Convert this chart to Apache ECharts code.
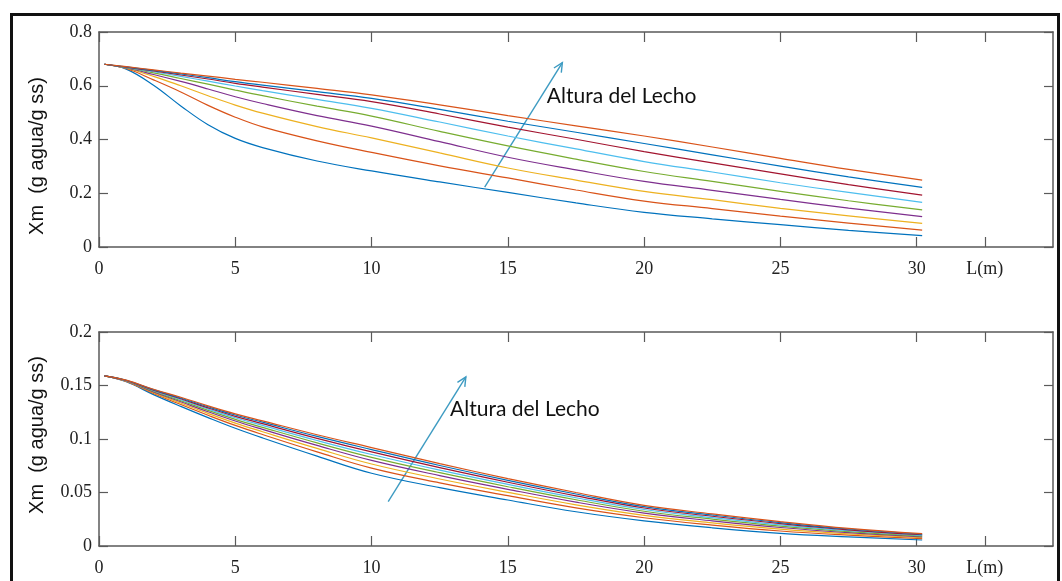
<!DOCTYPE html>
<html>
<head>
<meta charset="utf-8">
<script src="https://cdn.jsdelivr.net/npm/echarts@6/dist/echarts.min.js"></script>
<style>
  html, body { margin: 0; padding: 0; background: #fff; }
  #chart { width: 1062px; height: 581px; }
</style>
</head>
<body>
<div id="chart"></div>
<script>
// L (m) sample positions shared by every curve
const xs = [0.2, 1, 2, 3, 4, 5, 6, 8, 10, 12.5, 15, 17.5, 20, 22.5, 25, 27.5, 30.2];
const xTickValues = [0, 5, 10, 15, 20, 25, 30, 32.5];

// upper panel, from the lowest curve to the highest (bed height grows)
const top1 = [0.68, 0.662, 0.602, 0.525, 0.455, 0.404, 0.370, 0.320, 0.283, 0.242, 0.203, 0.164, 0.129, 0.105, 0.083, 0.062, 0.042];
const top2 = [0.68, 0.664, 0.622, 0.577, 0.527, 0.483, 0.447, 0.395, 0.352, 0.302, 0.257, 0.212, 0.171, 0.143, 0.115, 0.089, 0.063];
const top3 = [0.68, 0.665, 0.635, 0.600, 0.563, 0.528, 0.498, 0.448, 0.406, 0.350, 0.294, 0.249, 0.207, 0.176, 0.144, 0.116, 0.088];
const top4 = [0.68, 0.666, 0.642, 0.616, 0.588, 0.559, 0.534, 0.489, 0.450, 0.392, 0.334, 0.287, 0.244, 0.211, 0.177, 0.145, 0.113];
const top5 = [0.68, 0.667, 0.648, 0.627, 0.606, 0.584, 0.563, 0.524, 0.487, 0.430, 0.376, 0.327, 0.281, 0.244, 0.207, 0.172, 0.138];
const top6 = [0.68, 0.668, 0.652, 0.635, 0.617, 0.599, 0.582, 0.549, 0.516, 0.465, 0.413, 0.365, 0.318, 0.279, 0.239, 0.203, 0.166];
const top7 = [0.68, 0.669, 0.655, 0.640, 0.625, 0.609, 0.595, 0.568, 0.541, 0.495, 0.446, 0.401, 0.355, 0.313, 0.272, 0.232, 0.193];
const top8 = [0.68, 0.670, 0.657, 0.644, 0.630, 0.615, 0.602, 0.578, 0.553, 0.512, 0.468, 0.427, 0.385, 0.343, 0.301, 0.261, 0.222];
const top9 = [0.68, 0.671, 0.659, 0.647, 0.636, 0.624, 0.613, 0.590, 0.566, 0.529, 0.489, 0.451, 0.413, 0.372, 0.330, 0.289, 0.249];

// lower panel, same order
const low1 = [0.159, 0.1535, 0.1415, 0.1305, 0.1200, 0.1100, 0.1010, 0.0840, 0.0680, 0.0545, 0.0430, 0.0320, 0.0235, 0.0170, 0.0118, 0.0085, 0.0056];
const low2 = [0.159, 0.1538, 0.1425, 0.1322, 0.1222, 0.1127, 0.1042, 0.0880, 0.0728, 0.0590, 0.0470, 0.0356, 0.0264, 0.0196, 0.0140, 0.0101, 0.0068];
const low3 = [0.159, 0.1540, 0.1433, 0.1336, 0.1240, 0.1149, 0.1068, 0.0912, 0.0766, 0.0626, 0.0502, 0.0385, 0.0287, 0.0217, 0.0158, 0.0114, 0.0077];
const low4 = [0.159, 0.1543, 0.1440, 0.1348, 0.1255, 0.1168, 0.1090, 0.0940, 0.0800, 0.0658, 0.0530, 0.0410, 0.0308, 0.0235, 0.0173, 0.0125, 0.0086];
const low5 = [0.159, 0.1544, 0.1446, 0.1358, 0.1268, 0.1184, 0.1109, 0.0964, 0.0829, 0.0685, 0.0554, 0.0432, 0.0325, 0.0251, 0.0186, 0.0135, 0.0093];
const low6 = [0.159, 0.1546, 0.1452, 0.1367, 0.1280, 0.1199, 0.1127, 0.0986, 0.0855, 0.0709, 0.0576, 0.0451, 0.0341, 0.0265, 0.0198, 0.0143, 0.0099];
const low7 = [0.159, 0.1547, 0.1457, 0.1376, 0.1291, 0.1212, 0.1143, 0.1006, 0.0879, 0.0732, 0.0596, 0.0469, 0.0355, 0.0278, 0.0209, 0.0151, 0.0105];
const low8 = [0.159, 0.1549, 0.1461, 0.1383, 0.1301, 0.1224, 0.1157, 0.1024, 0.0901, 0.0752, 0.0614, 0.0486, 0.0368, 0.0290, 0.0219, 0.0159, 0.0110];
const low9 = [0.159, 0.1550, 0.1465, 0.1390, 0.1310, 0.1235, 0.1170, 0.1040, 0.0920, 0.0770, 0.0630, 0.0500, 0.0380, 0.0300, 0.0228, 0.0165, 0.0115];

const topCurves = [top1, top2, top3, top4, top5, top6, top7, top8, top9];
const lowCurves = [low1, low2, low3, low4, low5, low6, low7, low8, low9];

// matlab default line order
const colors = ['#0072BD', '#D95319', '#EDB120', '#7E2F8E', '#77AC30', '#4DBEEE', '#A2142F', '#0072BD', '#D95319'];

const serif = 'Liberation Serif';
const axisColor = '#5a5a5a';
const arrowColor = '#3d9bc2';

const xAxisFor = ( gridIndex, position ) => ( {
	type: 'value',
	gridIndex,
	position,
	min: 0,
	max: 35,
	axisLine: { show: true, onZero: false, lineStyle: { color: axisColor, width: 1.5 } },
	axisTick: { show: true, inside: true, length: 10, customValues: xTickValues, lineStyle: { color: axisColor, width: 1.2 } },
	axisLabel: {
		show: position === 'bottom',
		customValues: xTickValues,
		formatter: ( v ) => v === 32.5 ? 'L(m)' : String( v ),
		fontFamily: serif,
		fontSize: 18,
		color: '#222',
		margin: 13
	},
	splitLine: { show: false }
} );

const yAxisFor = ( gridIndex, position, max, interval ) => ( {
	type: 'value',
	gridIndex,
	position,
	min: 0,
	max,
	interval,
	axisLine: { show: true, onZero: false, lineStyle: { color: axisColor, width: 1.5 } },
	axisTick: { show: true, inside: true, length: 9, lineStyle: { color: axisColor, width: 1.2 } },
	axisLabel: { show: position === 'left', fontFamily: serif, fontSize: 18, color: '#222', margin: 7 },
	splitLine: { show: false }
} );

const lineSeries = ( curves, axisIndex ) => curves.map( ( values, i ) => ( {
	type: 'line',
	xAxisIndex: axisIndex,
	yAxisIndex: axisIndex,
	data: xs.map( ( x, j ) => [ x, values[ j ] ] ),
	showSymbol: false,
	smooth: 0.4,
	lineStyle: { width: 1.2, color: colors[ i ] },
	itemStyle: { color: colors[ i ] },
	silent: true,
	z: 2
} ) );

const chart = echarts.init( document.getElementById( 'chart' ), null, { renderer: 'canvas' } );

chart.setOption( {
	animation: false,
	backgroundColor: '#fff',
	grid: [
		{ left: 99, top: 32, width: 954, height: 215 },
		{ left: 99, top: 332, width: 954, height: 214 }
	],
	xAxis: [
		xAxisFor( 0, 'bottom' ),
		xAxisFor( 0, 'top' ),
		xAxisFor( 1, 'bottom' ),
		xAxisFor( 1, 'top' )
	],
	yAxis: [
		yAxisFor( 0, 'left', 0.8, 0.2 ),
		yAxisFor( 0, 'right', 0.8, 0.2 ),
		yAxisFor( 1, 'left', 0.2, 0.05 ),
		yAxisFor( 1, 'right', 0.2, 0.05 )
	],
	series: lineSeries( topCurves, 0 ).concat( lineSeries( lowCurves, 2 ) )
} );

// annotation arrows, given in data units of each panel
const arrows = [
	{ axis: 0, from: [ 14.15, 0.223 ], to: [ 17.0, 0.686 ], label: [ 16.43, 0.562 ] },
	{ axis: 2, from: [ 10.61, 0.0414 ], to: [ 13.46, 0.158 ], label: [ 12.88, 0.128 ] }
];

const graphic = [
	{
		type: 'rect',
		shape: { x: 11.5, y: 14.5, width: 1047, height: 590 },
		style: { fill: 'none', stroke: '#111', lineWidth: 3 },
		silent: true
	},
	{
		type: 'text',
		x: 37, y: 156, rotation: Math.PI / 2,
		style: { text: 'Xm  (g agua/g ss)', font: '20px "Liberation Sans"', fill: '#111', align: 'center', verticalAlign: 'middle' }
	},
	{
		type: 'text',
		x: 37, y: 435, rotation: Math.PI / 2,
		style: { text: 'Xm  (g agua/g ss)', font: '20px "Liberation Sans"', fill: '#111', align: 'center', verticalAlign: 'middle' }
	}
];

arrows.forEach( ( a ) => {
	const finder = { xAxisIndex: a.axis, yAxisIndex: a.axis };
	const p0 = chart.convertToPixel( finder, a.from );
	const p1 = chart.convertToPixel( finder, a.to );
	const pl = chart.convertToPixel( finder, a.label );
	const ang = Math.atan2( p1[ 1 ] - p0[ 1 ], p1[ 0 ] - p0[ 0 ] );
	const head = 10;
	const spread = 0.45;
	graphic.push( {
		type: 'line',
		shape: { x1: p0[ 0 ], y1: p0[ 1 ], x2: p1[ 0 ], y2: p1[ 1 ] },
		style: { stroke: arrowColor, lineWidth: 1.4 },
		silent: true
	} );
	graphic.push( {
		type: 'polyline',
		shape: { points: [
			[ p1[ 0 ] - head * Math.cos( ang - spread ), p1[ 1 ] - head * Math.sin( ang - spread ) ],
			p1,
			[ p1[ 0 ] - head * Math.cos( ang + spread ), p1[ 1 ] - head * Math.sin( ang + spread ) ]
		] },
		style: { stroke: arrowColor, lineWidth: 1.4, fill: 'none' },
		silent: true
	} );
	graphic.push( {
		type: 'text',
		x: pl[ 0 ], y: pl[ 1 ],
		style: { text: 'Altura del Lecho', font: '21px Lato', fill: '#111', align: 'left', verticalAlign: 'middle' },
		silent: true
	} );
} );

chart.setOption( { graphic } );
</script>
</body>
</html>
